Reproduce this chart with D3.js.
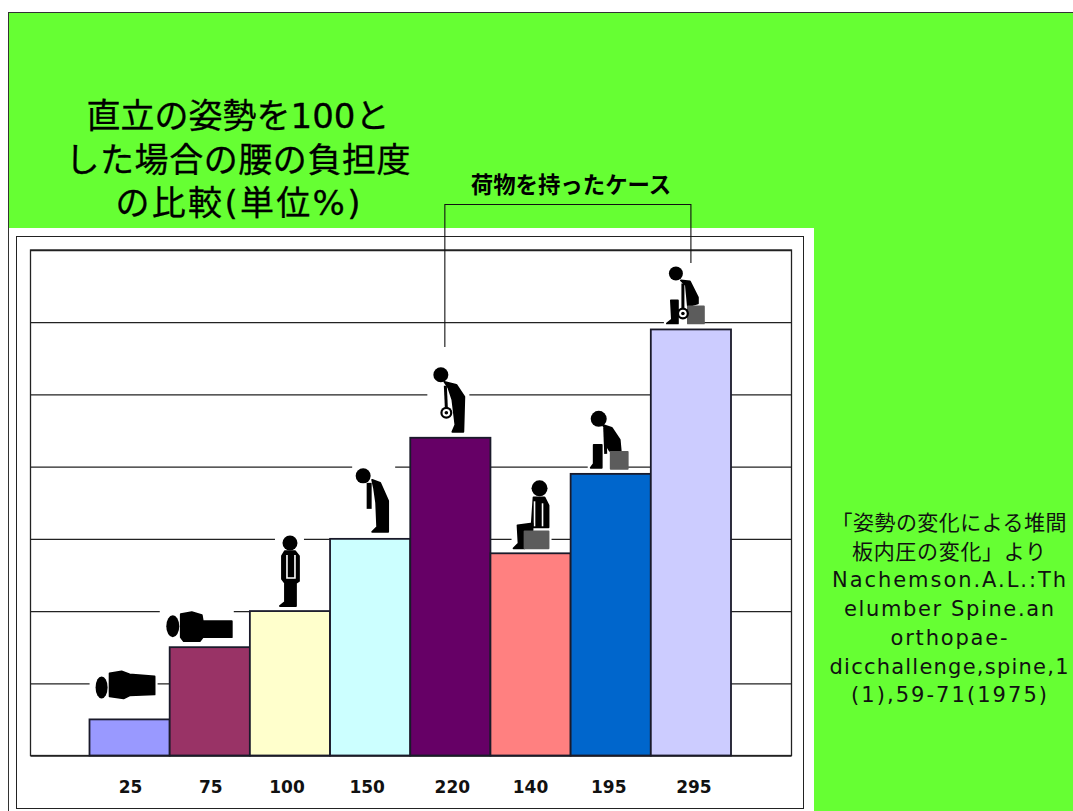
<!DOCTYPE html>
<html><head><meta charset="utf-8">
<style>html,body{margin:0;padding:0;background:#fff;overflow:hidden}svg{display:block}</style>
<script src="https://cdn.jsdelivr.net/npm/d3@7"></script></head>
<body><svg id="c" width="1073" height="811"></svg>
<script>
// Data
const tickLabels = ["25","75","100","150","220","140","195","295"];
const values = [25,75,100,150,220,140,195,295];
const barColors = ["#9999FF","#993366","#FFFFCC","#CCFFFF","#660066","#FF8080","#0066CC","#CCCCFF"];
const gridValues = [0,50,100,150,200,250,300,350];
const titleLines = ["直立の姿勢を100と","した場合の腰の負担度","の比較(単位%)"];
const bracketLabel = "荷物を持ったケース";
const bracketFrom = "220", bracketTo = "295";
const noteLines = ["「姿勢の変化による堆間","板内圧の変化」より","Nachemson.A.L.:Th","elumber Spine.an","orthopae-","dicchallenge,spine,1","(1),59-71(1975)"];

// Layout
const titleWidths = [303,345,245];
const noteWidths = [235,194,234,210,117,239,196];
const svg = d3.select("#c");
const F = "'Noto Sans CJK JP','DejaVu Sans',sans-serif";
const FL = "'DejaVu Sans','Noto Sans CJK JP',sans-serif";
const plot = {l:30.5,r:791.5,t:250,b:755.5};
const x = d3.scaleBand().domain(tickLabels).range([89.5,731]).padding(0);
const y = d3.scaleLinear().domain([0,350]).range([plot.b,plot.t]);

svg.append("rect").attr("x",8.5).attr("y",12.5).attr("width",1070).attr("height",805).attr("fill","#66FF33").attr("stroke","#333");
svg.append("rect").attr("x",9).attr("y",228).attr("width",805).attr("height",590).attr("fill","#fff");
svg.append("rect").attr("x",16.5).attr("y",236.5).attr("width",787).attr("height",572).attr("fill","#fff").attr("stroke","#222");

// Title
svg.append("g").selectAll("text").data(titleLines).join("text")
  .attr("x",238).attr("y",(d,i)=>128+i*43.7).attr("text-anchor","middle")
  .attr("font-family",FL).attr("font-size",34).attr("fill","#000")
  .attr("stroke","#000").attr("stroke-width",0.3)
  .attr("textLength",(d,i)=>titleWidths[i]).attr("lengthAdjust","spacing").text(d=>d);

// Grid from the y axis
const gridG = svg.append("g").attr("transform",`translate(${plot.l},0)`)
  .call(d3.axisLeft(y).tickValues(gridValues).tickSize(-(plot.r-plot.l)).tickFormat(""));
gridG.select(".domain").remove();
gridG.selectAll(".tick line").attr("stroke","#222").attr("stroke-width",1.3);

svg.append("rect").attr("x",plot.l).attr("y",plot.t).attr("width",plot.r-plot.l).attr("height",plot.b-plot.t)
  .attr("fill","none").attr("stroke","#222").attr("stroke-width",1.3);

// Bars
svg.append("g").selectAll("rect").data(values).join("rect")
  .attr("x",(d,i)=>x(tickLabels[i])).attr("y",d=>y(d))
  .attr("width",x.bandwidth()).attr("height",d=>y(0)-y(d))
  .attr("fill",(d,i)=>barColors[i]).attr("stroke","#1a1a2a").attr("stroke-width",1.8);

// Category labels
const labelNudge = [1,1,-3,-3,2,0,-2,3];
const xAxis = svg.append("g").attr("transform",`translate(0,${plot.b})`)
  .call(d3.axisBottom(x).tickSize(0).tickPadding(25));
xAxis.select(".domain").remove();
xAxis.selectAll("text").attr("font-family","'DejaVu Sans',sans-serif").attr("font-weight","bold")
  .attr("font-size",17).attr("fill","#111").attr("dx",(d,i)=>labelNudge[i]);

// Pictograms: local shapes relative to bar centre and bar top
const K="#000", G="#5c5c5c", W="#fff";
const poly=(d,fill=K)=>({t:"path",d,fill});
const line=(d,c=K,w=3)=>({t:"line",d,c,w});
const circ=(cx,cy,r,fill=K)=>({t:"e",cx,cy,rx:r,ry:r,fill});
const ell=(cx,cy,rx,ry)=>({t:"e",cx,cy,rx,ry,fill:K});
const ring=(cx,cy)=>[circ(cx,cy,6),circ(cx,cy,3.8,W),circ(cx,cy,1.8)];
const figures = [
 {box:[-40,-51,28,-7],s:[ell(-28,-32,6,11),poly("M-20-46L-8-48L0-45L25-43L25-25L0-24L-6-21L-20-23Z")]},
 {box:[-50,-46,24,-2],s:[ell(-37,-21,6.5,11),poly("M-29-33L-18-35L-8-32L-7-26L22-26L22-10L-7-10L-10-6L-26-6L-29-10Z")]},
 {box:[-15,-78,14,-4],s:[circ(0,-68,7.5),poly("M-5-60L5-60L9-55L9-30L6-28L6-5L-10-5L-5-9L-5-28L-8-32L-8-55Z"),line("M-3-56L-3-33L5-33L5-56",W,1.6),line("M1-55L1-35",K,3)]},
 {box:[-18,-74,25,-5],s:[circ(-7,-63,7.5),poly("M2-59L10-56L18-38L18-7L2-7L7-12L6-36L4-50Z"),line("M-1-56L-1-30",K,5)]},
 {box:[-23,-74,19,-5],s:[circ(-9.5,-63,7.5),poly("M-6-56L6-53L14-41L13-6L2-6L5-13L2-38L-2-50Z"),line("M-5-52L-4-30",K,3),...ring(-4,-25)]},
 {box:[-19,-78,21,-4],s:[circ(9,-65,8),poly("M3-56L14-56L18-48L18-26L1-26Z"),line("M4-52L4-27",W,1.6),line("M12-50L12-27",W,1.6),poly("M-13-28L2-30L2-23L-7-23L-6-5L-17-5L-12-10Z"),poly("M-6-22H18V-5H-6Z",G)]},
 {box:[-23,-65,17,-5],s:[circ(-12,-55,8),poly("M-8-49L1-46L9-34L10-23L-1-23L-4-28L-5-44Z"),line("M-6-46L-5-20",K,3),poly("M-17-29L-9-29L-9-6L-20-6L-17-10Z"),poly("M0-22H17V-5H0Z",G)]},
 {box:[-27,-66,13,-5],s:[circ(-15,-56,7),poly("M-10-49L-1-48L7-32L7-26L-3-23L-5-44Z"),line("M-8-46L-8-20",K,3),poly("M-20-29L-13-29L-13-6L-24-6L-19-10Z"),poly("M-3-23H13V-6H-3Z",G),...ring(-8,-16)]}
];
const figG = svg.append("g").selectAll("g").data(figures).join("g")
  .attr("transform",(d,i)=>`translate(${x(tickLabels[i])+x.bandwidth()/2},${y(values[i])})`);
figG.append("rect").attr("x",d=>d.box[0]).attr("y",d=>d.box[1])
  .attr("width",d=>d.box[2]-d.box[0]).attr("height",d=>d.box[3]-d.box[1]).attr("fill","#fff");
figG.each(function(f){
  const g=d3.select(this);
  f.s.forEach(o=>{
    if(o.t==="path") g.append("path").attr("d",o.d).attr("fill",o.fill).attr("stroke",o.fill).attr("stroke-width",1.8).attr("stroke-linejoin","round");
    else if(o.t==="line") g.append("path").attr("d",o.d).attr("fill","none").attr("stroke",o.c).attr("stroke-width",o.w);
    else g.append("ellipse").attr("cx",o.cx).attr("cy",o.cy).attr("rx",o.rx).attr("ry",o.ry).attr("fill",o.fill);
  });
});

// Bracket
const bx0 = x(bracketFrom)+x.bandwidth()/2-5.5, bx1 = x(bracketTo)+x.bandwidth()/2;
svg.append("path").attr("d",`M${bx0},347V204.5H${bx1}V263`).attr("fill","none").attr("stroke","#111").attr("stroke-width",1.1);
svg.append("text").attr("x",571).attr("y",193).attr("text-anchor","middle")
  .attr("font-family",F).attr("font-weight","bold").attr("font-size",22.4).attr("fill","#000").text(bracketLabel);

// Source note
svg.append("g").selectAll("text").data(noteLines).join("text")
  .attr("x",949).attr("y",(d,i)=>530+i*28.7).attr("text-anchor","middle")
  .attr("font-family",FL).attr("font-size",21).attr("fill","#111")
  .attr("textLength",(d,i)=>noteWidths[i]).attr("lengthAdjust","spacing").text(d=>d);
</script></body></html>
